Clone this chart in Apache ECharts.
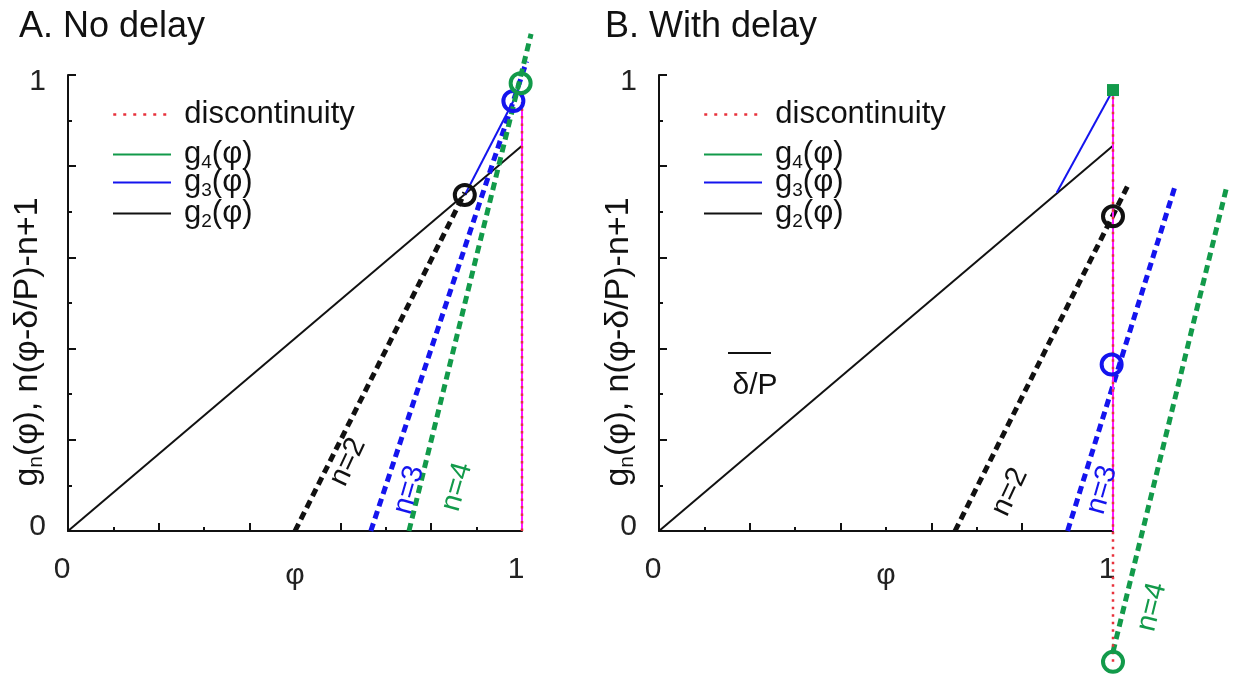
<!DOCTYPE html>
<html>
<head>
<meta charset="utf-8">
<script src="https://cdn.jsdelivr.net/npm/echarts@6/dist/echarts.min.js"></script>
<style>html,body{margin:0;padding:0;background:#fff}#c{width:1236px;height:676px}</style>
</head>
<body>
<div id="c"></div>
<script>
// ---- Data ----
// Panel A: no delay
const g2A = [[0, 0], [1, 0.845]];
const g3A = [[0.874, 0.737], [0.981, 0.943]];
const g4A = [[0.981, 0.943], [0.997, 0.982]];
const n2A = [[0.5, 0], [0.874, 0.742]];
const n3A = [[0.667, 0], [1.01, 1.03]];
const n4A = [[0.751, 0], [1.02, 1.09]];
const discA = [[1, 0], [1, 0.94]];
const circBlackA = [[0.874, 0.737]];
const circBlueA = [[0.981, 0.943]];
const circGreenA = [[0.997, 0.982]];
// Panel B: with delay
const g2B = [[0, 0], [1, 0.845]];
const g3B = [[0.876, 0.742], [1, 0.967]];
const n2B = [[0.652, 0], [1.035, 0.762]];
const n3B = [[0.9, 0], [1.137, 0.757]];
const n4B = [[1.0, -0.265], [1.251, 0.757]];
const magB = [[1, 0], [1, 0.955]];
const discB = [[1, -0.287], [1, 0.967]];
const circBlackB = [[1.0, 0.69]];
const circBlueB = [[0.997, 0.365]];
const circGreenB = [[1.0, -0.287]];
const squareGreenB = [[1.0, 0.967]];
// Tick labels
const xTickLabels = {0: '0', 1: '1'};
const yTickLabels = {0: '{bot|0}', 1: '{top|1}'};

const FF = '"Liberation Sans", Arial, sans-serif';
const GREEN = '#129a4a', BLUE = '#1414ee', BLACK = '#111', RED = '#e8323c', MAG = '#ff1aff';

const rich = {
  a: {fontSize: 31, fontFamily: FF, color: '#111', lineHeight: 36},
  s: {fontSize: 19, fontFamily: FF, color: '#111', lineHeight: 19, verticalAlign: 'bottom'}
};
const richName = {
  a: {fontSize: 34, fontFamily: FF, color: '#111', lineHeight: 38},
  s: {fontSize: 21, fontFamily: FF, color: '#111', lineHeight: 21, verticalAlign: 'bottom'}
};
function gname(n) { return '{a|g}{s|' + n + '}{a|(φ)}'; }

// visible axes span 0..1; a second hidden, wider axis pair with the same scale carries the data
const AX_W = 454, AX_H = 456, TOP = 75;
const LEFTS = [68, 659];
const XR = [0, 1.26], YR = [-0.3, 1.15];

function xAx(gi) {
  return {
    type: 'value', gridIndex: gi, min: 0, max: 1, interval: 0.2,
    name: 'φ', nameLocation: 'middle', nameGap: 30, nameMoveOverlap: false,
    nameTextStyle: {fontSize: 30, fontFamily: FF, color: '#222'},
    axisLine: {show: true, onZero: false, lineStyle: {color: '#111', width: 2}},
    axisTick: {show: true, inside: true, length: 8, lineStyle: {color: '#111', width: 2}},
    minorTick: {show: true, splitNumber: 2, length: 4, lineStyle: {color: '#111', width: 2}},
    splitLine: {show: false}, minorSplitLine: {show: false},
    axisLabel: {margin: 24, fontSize: 30, fontFamily: FF, color: '#222', padding: [0, 12, 0, 0],
      formatter: v => (xTickLabels[v] !== undefined ? xTickLabels[v] : '')}
  };
}
function yAx(gi) {
  return {
    type: 'value', gridIndex: gi, min: 0, max: 1, interval: 0.2,
    name: '{a|g}{s|n}{a|(φ), n(φ-δ/P)-n+1}', nameLocation: 'middle', nameGap: 21, nameMoveOverlap: false,
    nameTextStyle: {rich: richName, padding: [0, 78, 0, 0]},
    axisLine: {show: true, onZero: false, lineStyle: {color: '#111', width: 2}},
    axisTick: {show: true, inside: true, length: 8, lineStyle: {color: '#111', width: 2}},
    minorTick: {show: true, splitNumber: 2, length: 4, lineStyle: {color: '#111', width: 2}},
    splitLine: {show: false}, minorSplitLine: {show: false},
    axisLabel: {margin: 22, color: '#222',
      rich: {
        top: {fontSize: 30, fontFamily: FF, color: '#222', padding: [14, 0, 0, 0]},
        bot: {fontSize: 30, fontFamily: FF, color: '#222', padding: [0, 0, 9, 0]}
      },
      formatter: v => (yTickLabels[v] !== undefined ? yTickLabels[v] : '')}
  };
}
function hidX(gi) { return {type: 'value', gridIndex: gi, min: XR[0], max: XR[1], show: false, splitLine: {show: false}}; }
function hidY(gi) { return {type: 'value', gridIndex: gi, min: YR[0], max: YR[1], show: false, splitLine: {show: false}}; }

function line(name, data, gi, color, width, type, z) {
  return {type: 'line', name: name, xAxisIndex: gi, yAxisIndex: gi, data: data,
    symbol: 'none', showSymbol: false, clip: false, z: z || 2, silent: true,
    lineStyle: {color: color, width: width, type: type || 'solid', cap: 'butt'},
    itemStyle: {color: color}};
}
function dots(name, data, gi, color, symbol, size, z) {
  return {type: 'scatter', name: name, xAxisIndex: gi, yAxisIndex: gi, data: data,
    symbol: symbol, symbolSize: size, clip: false, z: z || 5, silent: true,
    itemStyle: symbol === 'rect' ? {color: color, opacity: 1}
      : {color: 'rgba(0,0,0,0)', opacity: 1, borderColor: color, borderWidth: 4}};
}

const DASH = [8, 5];
const DOT = [2.5, 5];
const series = [];
[2, 3].forEach(gi => {
  const A = gi === 2;
  series.push(line('g2(φ)', A ? g2A : g2B, gi, BLACK, 2));
  series.push(line('g3(φ)', A ? g3A : g3B, gi, BLUE, 2));
  if (A) series.push(line('g4(φ)', g4A, gi, GREEN, 2));
  series.push(line('n2', A ? n2A : n2B, gi, BLACK, 5, DASH, 3));
  series.push(line('n3', A ? n3A : n3B, gi, BLUE, 5, DASH, 3));
  series.push(line('n4', A ? n4A : n4B, gi, GREEN, 5, DASH, 3));
  series.push(line('mag', A ? discA : magB, gi, MAG, 2, 'solid', 4));
  series.push(line('discontinuity', A ? discA : discB, gi, RED, 2.5, DOT, 4));
});
series.push(dots('cbA', circBlackA, 2, BLACK, 'circle', 20));
series.push(dots('cuA', circBlueA, 2, BLUE, 'circle', 20));
series.push(dots('cgA', circGreenA, 2, GREEN, 'circle', 20));
series.push(dots('cbB', circBlackB, 3, BLACK, 'circle', 20));
series.push(dots('cuB', circBlueB, 3, BLUE, 'circle', 20));
series.push(dots('cgB', circGreenB, 3, GREEN, 'circle', 20));
series.push(dots('sqB', squareGreenB, 3, GREEN, 'rect', 12));

// legends, one per entry, per panel
const legendRows = [['discontinuity', 113], ['g4(φ)', 153], ['g3(φ)', 181], ['g2(φ)', 212]];
const legends = [];
[112, 703].forEach(lx => {
  legendRows.forEach(([nm, y]) => {
    const lg = {
      data: [nm], left: lx, top: y - 14, orient: 'vertical', selectedMode: false,
      padding: 0, itemWidth: 58, itemHeight: 14, itemGap: 0,
      itemStyle: {opacity: 0},
      textStyle: {fontSize: 31, fontFamily: FF, color: '#111', rich: rich, padding: [0, 0, 0, 8]},
      formatter: n => n === 'discontinuity' ? '{a|discontinuity}' : gname(n.charAt(1))
    };
    if (nm === 'discontinuity') lg.lineStyle = {type: [3, 7], width: 2.5};
    legends.push(lg);
  });
});

function label(txt, x, y, deg, color) {
  return {type: 'text', x: x, y: y, rotation: deg * Math.PI / 180, z: 10, silent: true,
    style: {text: txt, fill: color, font: '29px ' + FF, textAlign: 'center', textVerticalAlign: 'middle'}};
}

const grids = [];
LEFTS.forEach(l => grids.push({left: l, top: TOP, width: AX_W, height: AX_H,
  containLabel: false, outerBoundsMode: 'none'}));
LEFTS.forEach(l => grids.push({
  left: l + XR[0] * AX_W, top: TOP - (YR[1] - 1) * AX_H,
  width: (XR[1] - XR[0]) * AX_W, height: (YR[1] - YR[0]) * AX_H,
  containLabel: false, outerBoundsMode: 'none'
}));

const option = {
  animation: false,
  backgroundColor: '#fff',
  title: [
    {text: 'A. No delay', left: 14, top: 4, textStyle: {fontSize: 36, fontWeight: 'normal', fontFamily: FF, color: '#111'}},
    {text: 'B. With delay', left: 600, top: 4, textStyle: {fontSize: 36, fontWeight: 'normal', fontFamily: FF, color: '#111'}}
  ],
  grid: grids,
  xAxis: [xAx(0), xAx(1), hidX(2), hidX(3)],
  yAxis: [yAx(0), yAx(1), hidY(2), hidY(3)],
  legend: legends,
  series: series,
  graphic: [
    label('n=2', 348, 462, 65, BLACK),
    label('n=3', 409, 490, 74, BLUE),
    label('n=4', 457, 487, 74, GREEN),
    label('n=2', 1010, 492, 65, BLACK),
    label('n=3', 1102, 490, 74, BLUE),
    label('n=4', 1152, 607, 76, GREEN),
    {type: 'text', x: 755, y: 386, silent: true,
      style: {text: 'δ/P', fill: '#111', font: '30px ' + FF, textAlign: 'center', textVerticalAlign: 'middle'}},
    {type: 'line', silent: true, shape: {x1: 728, y1: 353, x2: 771, y2: 353}, style: {stroke: '#111', lineWidth: 2}}
  ]
};
const chart = echarts.init(document.getElementById('c'), null, {renderer: 'canvas'});
chart.setOption(option);
</script>
</body>
</html>
